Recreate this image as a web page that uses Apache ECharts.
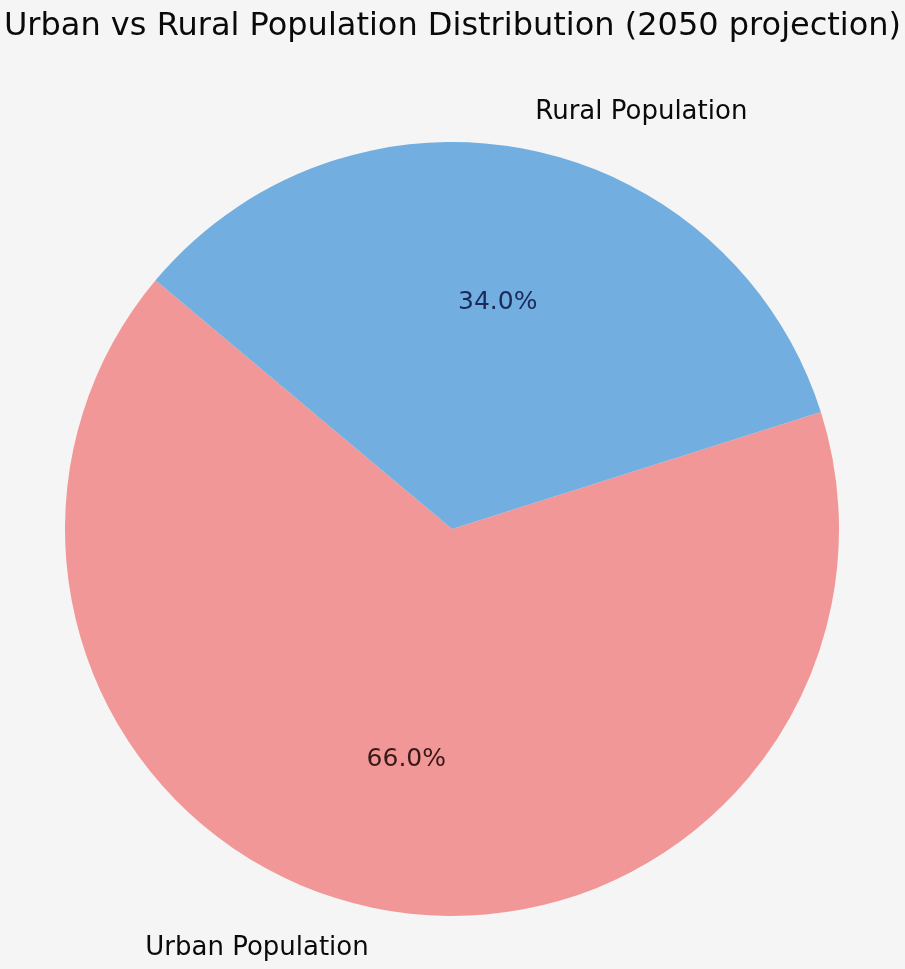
<!DOCTYPE html>
<html>
<head>
<meta charset="utf-8">
<script src="https://cdn.jsdelivr.net/npm/echarts@6/dist/echarts.min.js"></script>
<style>
html,body{margin:0;padding:0;background:#f5f5f5;}
#chart{width:905px;height:969px;}
</style>
</head>
<body>
<div id="chart"></div>
<script>
const titleText = 'Urban vs Rural Population Distribution (2050 projection)';
const categories = ['Urban Population', 'Rural Population'];
const shares = [66.0, 34.0];
const colors = ['#f29797', '#72aedf'];
const pctColors = ['#3a1818', '#1c2a5a'];

const chart = echarts.init(document.getElementById('chart'));
const R = 387;
const center = [452, 529];
const startAngle = 140;

function makeData(withColor) {
  return categories.map((c, i) => ({
    name: c,
    value: shares[i],
    itemStyle: withColor ? { color: colors[i] } : { color: 'rgba(0,0,0,0)' }
  }));
}

chart.setOption({
  backgroundColor: '#f5f5f5',
  animation: false,
  title: {
    text: titleText,
    left: 'center',
    top: 6,
    textStyle: { fontFamily: 'DejaVu Sans', fontSize: 32, fontWeight: 'normal', color: '#0a0a0a' }
  },
  series: [
    {
      type: 'pie',
      center: center,
      radius: [0, R],
      startAngle: startAngle,
      clockwise: false,
      silent: true,
      label: { show: false },
      labelLine: { show: false },
      data: makeData(true)
    },
    {
      type: 'pie',
      center: center,
      radius: [0.2 * R, R],
      startAngle: startAngle,
      clockwise: false,
      silent: true,
      label: {
        show: true,
        position: 'inside',
        fontFamily: 'DejaVu Sans',
        fontSize: 25,
        formatter: p => p.value.toFixed(1) + '%'
      },
      labelLayout: function (p) {
        return { dy: p.dataIndex === 1 ? 4 : 0 };
      },
      labelLine: { show: false },
      data: makeData(false).map((d, i) => Object.assign(d, { label: { color: pctColors[i] } }))
    },
    {
      type: 'pie',
      center: center,
      radius: [R, 1.2 * R],
      startAngle: startAngle,
      clockwise: false,
      silent: true,
      label: {
        show: true,
        position: 'inside',
        fontFamily: 'DejaVu Sans',
        fontSize: 26,
        color: '#0a0a0a',
        formatter: '{b}'
      },
      labelLayout: function (p) {
        return { align: p.dataIndex === 0 ? 'right' : 'left', dy: p.dataIndex === 1 ? 4 : -1 };
      },
      labelLine: { show: false },
      data: makeData(false)
    }
  ]
});
</script>
</body>
</html>
